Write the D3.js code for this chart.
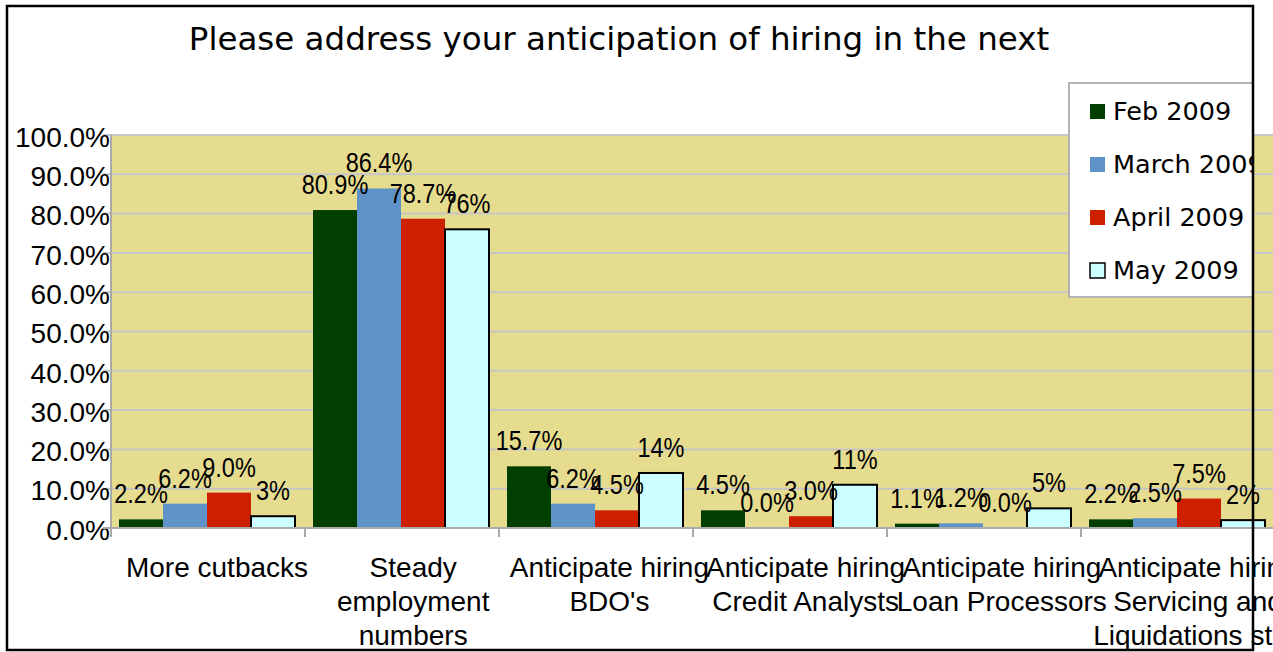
<!DOCTYPE html>
<html>
<head>
<meta charset="utf-8">
<script src="https://cdn.jsdelivr.net/npm/d3@7"></script>
<style>
  body { margin: 0; background: #fff; }
  svg { display: block; }
</style>
</head>
<body>
<div id="chart"></div>
<script>
// Hiring anticipation survey, Feb - May 2009

const categories = ["More cutbacks", "Steady employment numbers", "Anticipate hiring BDO's",
  "Anticipate hiring Credit Analysts", "Anticipate hiring Loan Processors",
  "Anticipate hiring Servicing and Liquidations staff"];
const categoryLines = [
  ["More cutbacks"],
  ["Steady", "employment", "numbers"],
  ["Anticipate hiring", "BDO's"],
  ["Anticipate hiring", "Credit Analysts"],
  ["Anticipate hiring", "Loan Processors"],
  ["Anticipate hiring", "Servicing and", "Liquidations staff"]
];
const seriesNames = ["Feb 2009", "March 2009", "April 2009", "May 2009"];
const febValues = [2.2, 80.9, 15.7, 4.5, 1.1, 2.2];
const marchValues = [6.2, 86.4, 6.2, 0.0, 1.2, 2.5];
const aprilValues = [9.0, 78.7, 4.5, 3.0, 0.0, 7.5];
const mayValues = [3, 76, 14, 11, 5, 2];
const labelDecimals = [1, 1, 1, 0];
const yTickValues = [0, 10, 20, 30, 40, 50, 60, 70, 80, 90, 100];

const seriesValues = [febValues, marchValues, aprilValues, mayValues];
const colors = ["#003f00", "#5f93c7", "#cc2000", "#ccffff"];

const width = 1273, height = 652;
const plot = { left: 111, top: 135, bottom: 528, right: 1275 };

const svg = d3.select("#chart").append("svg")
  .attr("width", width)
  .attr("height", height);

const x = d3.scaleBand().domain(categories).range([plot.left, plot.right]);
const x1 = d3.scaleBand().domain(seriesNames).range([8, x.bandwidth() - 10]);
const y = d3.scaleLinear().domain([0, 100]).range([plot.bottom, plot.top]);

// plot wall
svg.append("rect")
  .attr("x", plot.left).attr("y", plot.top)
  .attr("width", plot.right - plot.left).attr("height", plot.bottom - plot.top)
  .attr("fill", "#e6dc8f");

// gridlines (extend a little left of the axis like ticks)
svg.append("g").selectAll("line")
  .data(yTickValues)
  .enter().append("line")
  .attr("x1", plot.left - 8).attr("x2", plot.right)
  .attr("y1", d => y(d)).attr("y2", d => y(d))
  .attr("stroke", "#c6c6c6")
  .attr("stroke-width", 2);

// bars
const rows = categories.map((c, i) => ({ cat: c, vals: seriesValues.map((s, j) => ({ s: j, v: s[i] })) }));

const group = svg.append("g").selectAll("g")
  .data(rows)
  .enter().append("g")
  .attr("transform", d => "translate(" + x(d.cat) + ",0)");

group.selectAll("rect")
  .data(d => d.vals.filter(e => e.v > 0))
  .enter().append("rect")
  .attr("x", d => x1(seriesNames[d.s]))
  .attr("y", d => y(d.v))
  .attr("width", x1.bandwidth())
  .attr("height", d => y(0) - y(d.v))
  .attr("fill", d => colors[d.s])
  .attr("stroke", d => d.s === 3 ? "#000" : "none")
  .attr("stroke-width", 2);

// y axis
const yAxis = svg.append("g")
  .attr("transform", "translate(" + plot.left + ",0)")
  .call(d3.axisLeft(y).tickValues(yTickValues).tickSize(0).tickPadding(1)
    .tickFormat(d => d.toFixed(1) + "%"));
yAxis.select(".domain").attr("stroke", "#aaaaaa").attr("stroke-width", 2)
  .attr("d", "M0," + plot.top + "V" + (plot.bottom + 9));
yAxis.selectAll("text")
  .attr("dy", "0.4em")
  .style("font-family", "'Liberation Sans', Arial, sans-serif")
  .style("font-size", "28px")
  .attr("fill", "#000");

// x axis line and boundary ticks
svg.append("line")
  .attr("x1", plot.left - 8).attr("x2", plot.right)
  .attr("y1", plot.bottom).attr("y2", plot.bottom)
  .attr("stroke", "#aaaaaa").attr("stroke-width", 2);

svg.append("g").selectAll("line")
  .data(categories)
  .enter().append("line")
  .attr("x1", d => x(d)).attr("x2", d => x(d))
  .attr("y1", plot.bottom).attr("y2", plot.bottom + 9)
  .attr("stroke", "#aaaaaa").attr("stroke-width", 2);

// category labels
const catLabels = svg.append("g").selectAll("text")
  .data(categories)
  .enter().append("text")
  .attr("text-anchor", "middle")
  .style("font-family", "'Liberation Sans', Arial, sans-serif")
  .style("font-size", "28px")
  .attr("fill", "#000");

catLabels.selectAll("tspan")
  .data((d, i) => categoryLines[i].map(line => ({ line, i, cat: d })))
  .enter().append("tspan")
  .attr("x", d => x(d.cat) + x.bandwidth() / 2 + 9 + 2.2 * d.i)
  .attr("y", (d, k) => 577 + k * 34)
  .text(d => d.line);

// data labels, squeezed horizontally like a narrow face
group.selectAll("text")
  .data(d => d.vals)
  .enter().append("text")
  .attr("x", d => x1(seriesNames[d.s]) + x1.bandwidth() / 2)
  .attr("y", d => y(d.v) - 16)
  .attr("text-anchor", "middle")
  .style("font-family", "'Liberation Sans', Arial, sans-serif")
  .style("font-size", "28px")
  .attr("fill", "#000")
  .text(d => d.v.toFixed(labelDecimals[d.s]) + "%")
  .each(function () {
    const len = this.getComputedTextLength();
    d3.select(this)
      .attr("textLength", len * 0.84)
      .attr("lengthAdjust", "spacingAndGlyphs");
  });

// legend, clipped at the frame
svg.append("clipPath").attr("id", "legend-clip")
  .append("rect").attr("x", 0).attr("y", 0).attr("width", 1252).attr("height", height);

const legend = svg.append("g").attr("clip-path", "url(#legend-clip)");

legend.append("rect")
  .attr("x", 1069).attr("y", 83)
  .attr("width", 200).attr("height", 214)
  .attr("fill", "#fff")
  .attr("stroke", "#b3b3b3")
  .attr("stroke-width", 2);

const legendItem = legend.selectAll(".legend")
  .data(seriesNames)
  .enter().append("g")
  .attr("class", "legend")
  .attr("transform", (d, i) => "translate(0," + (120 + 53 * i) + ")");

legendItem.append("rect")
  .attr("x", 1090).attr("y", -16)
  .attr("width", 15).attr("height", 15)
  .attr("fill", (d, i) => colors[i])
  .attr("stroke", (d, i) => i === 3 ? "#000" : "none")
  .attr("stroke-width", 1.5);

legendItem.append("text")
  .attr("x", 1113)
  .style("font-family", "'DejaVu Sans', sans-serif")
  .style("font-size", "25.5px")
  .attr("fill", "#000")
  .text(d => d);

// title
svg.append("text")
  .attr("x", 619)
  .attr("y", 50)
  .attr("text-anchor", "middle")
  .style("font-family", "'DejaVu Sans', sans-serif")
  .style("font-size", "32.5px")
  .attr("fill", "#000")
  .text("Please address your anticipation of hiring in the next");

// outer frame
svg.append("rect")
  .attr("x", 7).attr("y", 6)
  .attr("width", 1246).attr("height", 644)
  .attr("fill", "none")
  .attr("stroke", "#000")
  .attr("stroke-width", 2.5);
</script>
</body>
</html>
